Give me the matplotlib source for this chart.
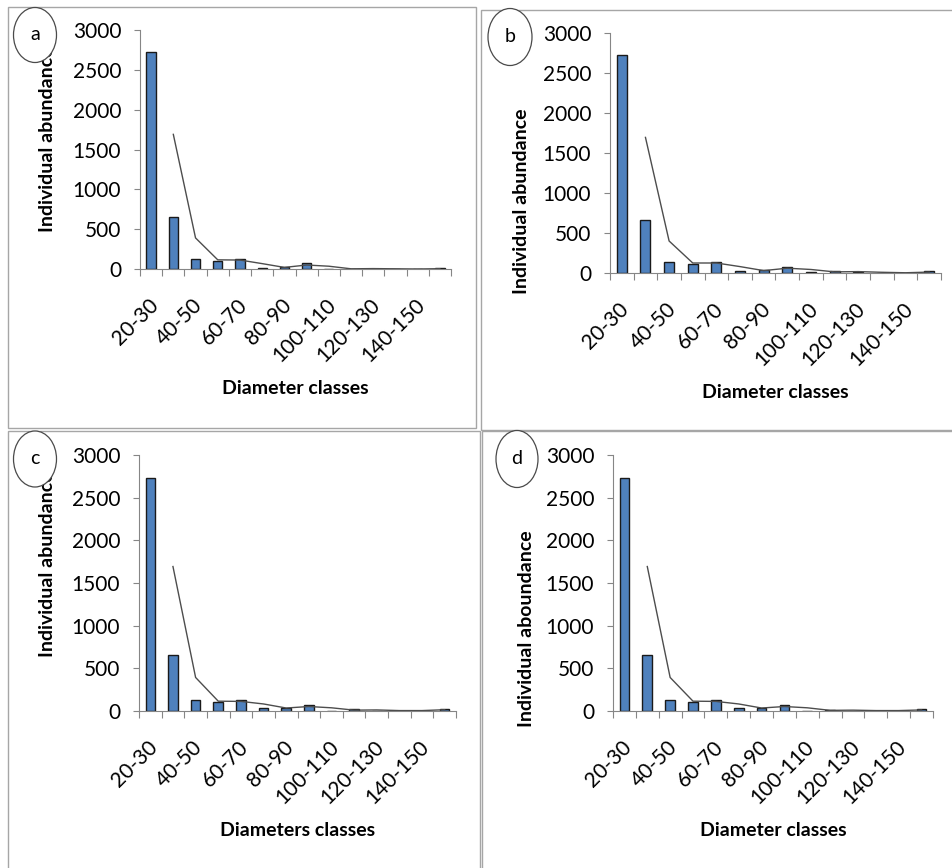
import numpy as np
import pandas as pd
import matplotlib
matplotlib.use("Agg")
import matplotlib.pyplot as plt
import matplotlib.transforms as mtransforms
from matplotlib.patches import Ellipse, Rectangle

plt.rcParams['font.family'] = ['Lato', 'DejaVu Sans']

# diameter classes (cm)
classes = ['20-30', '30-40', '40-50', '50-60', '60-70', '70-80', '80-90',
           '90-100', '100-110', '110-120', '120-130', '130-140', '140-150',
           '150-160']

# individual abundance per class, one list per panel
abund_a = [2730, 650, 130, 100, 125, 10, 30, 70, 0, 5, 5, 0, 0, 8]
abund_b = [2730, 660, 140, 110, 140, 20, 40, 80, 8, 20, 15, 3, 3, 20]
abund_c = [2730, 656, 130, 100, 125, 40, 30, 75, 0, 20, 5, 5, 5, 25]
abund_d = [2730, 656, 130, 100, 125, 40, 30, 75, 0, 15, 5, 5, 5, 20]

panel_letters = ['a', 'b', 'c', 'd']
xlabels = ['Diameter classes', 'Diameter classes', 'Diameters classes',
           'Diameter classes']
ylabels = ['Individual abundance', 'Individual abundance',
           'Individual abundance', 'Individual aboundance']

W, H = 953, 868
BAR_BLUE = '#4F81BD'
GRID_GRAY = '#868686'


def px(x, y):
    """pixel (from top-left) -> figure fraction"""
    return x / W, 1 - y / H


def draw_panel(ax, values):
    n = len(values)
    x = np.arange(n)
    ax.bar(x, values, width=0.42, color=BAR_BLUE, edgecolor='#1a1a1a',
           linewidth=1.0, zorder=2)
    # 2-period moving average trend line
    ma = pd.Series(values).rolling(2).mean()
    ax.plot(x, ma, color='#4d4d4d', linewidth=1.0, zorder=3)

    ax.set_xlim(-0.5, n - 0.5)
    ax.set_ylim(0, 3000)
    ax.set_yticks(range(0, 3001, 500))
    ax.tick_params(axis='y', direction='out', length=4.5, color=GRID_GRAY,
                   labelsize=15, pad=9)

    # ticks between categories, labels on every second category
    ax.set_xticks(np.arange(-0.5, n, 1.0))
    ax.set_xticklabels([])
    ax.tick_params(axis='x', which='major', direction='out', length=5,
                   color=GRID_GRAY)
    # rotated category labels, anchored a little right of and below centre
    trans = ax.get_xaxis_transform() + mtransforms.ScaledTranslation(
        4 / 100, -33 / 100, ax.figure.dpi_scale_trans)
    for xi, lab in zip(x[::2], classes[::2]):
        ax.text(xi, 0, lab, transform=trans, rotation=45, ha='right',
                va='center', rotation_mode='anchor', fontsize=15,
                clip_on=False)

    for side in ['top', 'right']:
        ax.spines[side].set_visible(False)
    for side in ['left', 'bottom']:
        ax.spines[side].set_color(GRID_GRAY)


fig = plt.figure(figsize=(W / 100, H / 100), dpi=100)

# axes boxes in pixels: left, top, right, bottom
boxes = [(140, 30, 451, 269), (610, 33, 941, 273),
         (139, 455, 456, 711), (613, 455, 933, 711)]
# panel frames
frames = [(8, 7, 476, 428), (481, 10, 955, 430),
          (8, 431, 480, 870), (482, 431, 955, 870)]
# circles (centre x, centre y, width, height)
circles = [(35, 35, 43, 55), (510, 37, 44, 57),
           (35, 459, 43, 56), (517, 459, 42, 57)]
# y label and x label centres
ylab_pos = [(48, 139), (522, 201), (48, 564), (527, 629)]
xlab_pos = [(295, 389), (775, 392), (298, 830), (773, 830)]
data = [abund_a, abund_b, abund_c, abund_d]

for i in range(4):
    l, t, r, b = frames[i]
    x0, y0 = px(l, b)
    fig.add_artist(Rectangle((x0, y0), (r - l) / W, (b - t) / H,
                             transform=fig.transFigure, fill=False,
                             edgecolor='#a6a6a6', linewidth=1.0))

    l, t, r, b = boxes[i]
    x0, y0 = px(l, b)
    ax = fig.add_axes([x0, y0, (r - l) / W, (b - t) / H])
    draw_panel(ax, data[i])

    yx, yy = px(*ylab_pos[i])
    fig.text(yx, yy, ylabels[i], rotation=90, ha='center', va='center',
             fontsize=14, fontweight='bold')
    lx, ly = px(*xlab_pos[i])
    fig.text(lx, ly, xlabels[i], ha='center', va='center',
             fontsize=14, fontweight='bold')

    cx, cy, cw, ch = circles[i]
    ex, ey = px(cx, cy)
    fig.add_artist(Ellipse((ex, ey), cw / W, ch / H,
                           transform=fig.transFigure, facecolor='white',
                           edgecolor='#4a4a4a', linewidth=0.9, zorder=5))
    fig.text(ex, ey, panel_letters[i], ha='center', va='center',
             fontsize=14, zorder=6)

fig.savefig('out.png', dpi=100, facecolor='white')
